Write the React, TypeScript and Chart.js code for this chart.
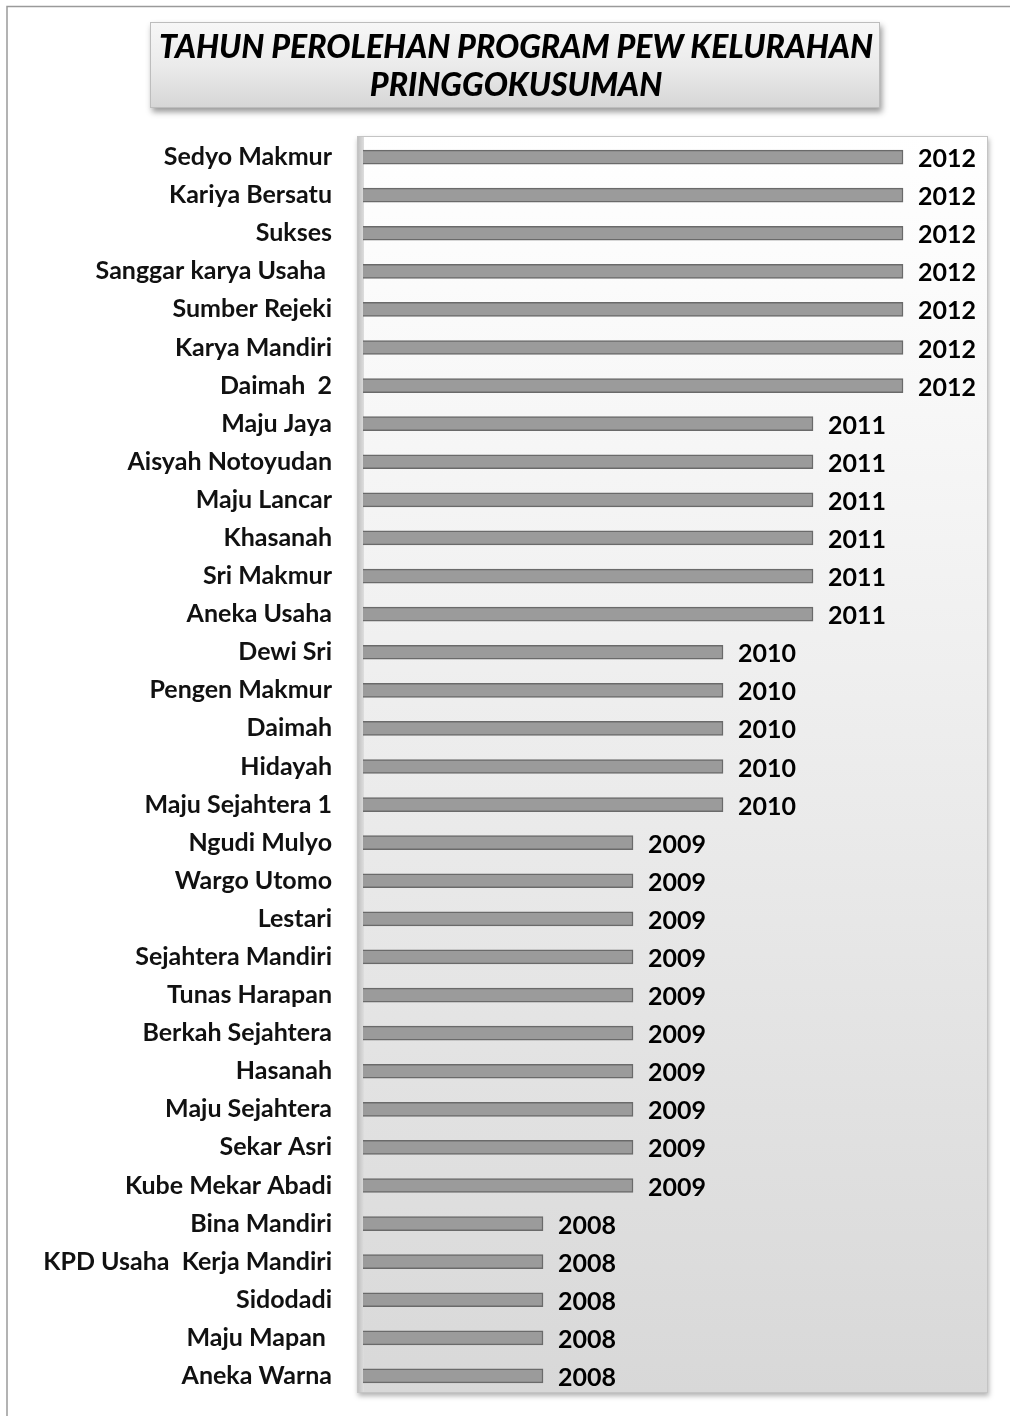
import React, { useEffect, useRef } from "react";
import { Chart, registerables } from "chart.js";

Chart.register(...registerables);

const titleLines = ["TAHUN PEROLEHAN PROGRAM PEW KELURAHAN", "PRINGGOKUSUMAN"];

const categories = [
  "Sedyo Makmur",
  "Kariya Bersatu",
  "Sukses",
  "Sanggar karya Usaha ",
  "Sumber Rejeki",
  "Karya Mandiri",
  "Daimah  2",
  "Maju Jaya",
  "Aisyah Notoyudan",
  "Maju Lancar",
  "Khasanah",
  "Sri Makmur",
  "Aneka Usaha",
  "Dewi Sri",
  "Pengen Makmur",
  "Daimah",
  "Hidayah",
  "Maju Sejahtera 1",
  "Ngudi Mulyo",
  "Wargo Utomo",
  "Lestari",
  "Sejahtera Mandiri",
  "Tunas Harapan",
  "Berkah Sejahtera",
  "Hasanah",
  "Maju Sejahtera",
  "Sekar Asri",
  "Kube Mekar Abadi",
  "Bina Mandiri",
  "KPD Usaha  Kerja Mandiri",
  "Sidodadi",
  "Maju Mapan ",
  "Aneka Warna",
];

const years = [
  2012, 2012, 2012, 2012, 2012, 2012, 2012,
  2011, 2011, 2011, 2011, 2011, 2011,
  2010, 2010, 2010, 2010, 2010,
  2009, 2009, 2009, 2009, 2009, 2009, 2009, 2009, 2009, 2009,
  2008, 2008, 2008, 2008, 2008,
];

const axisMin = 2006;
const axisMax = 2013;

const FONT = "Lato, 'Open Sans', 'DejaVu Sans', sans-serif";

const decorPlugin = {
  id: "decor",
  beforeDraw(chart: any) {
    const { ctx, chartArea } = chart;
    const W = chart.width;
    ctx.save();
    ctx.fillStyle = "#ffffff";
    ctx.fillRect(0, 0, W, chart.height);

    // outer frame
    ctx.strokeStyle = "#9a9a9a";
    ctx.lineWidth = 1.5;
    ctx.beginPath();
    ctx.moveTo(7, chart.height);
    ctx.lineTo(7, 6.5);
    ctx.lineTo(W, 6.5);
    ctx.stroke();

    // title box
    const tx = 150, ty = 22, tw = 730, th = 86;
    ctx.save();
    ctx.shadowColor = "rgba(0,0,0,0.4)";
    ctx.shadowBlur = 6;
    ctx.shadowOffsetX = 2;
    ctx.shadowOffsetY = 4;
    const tg = ctx.createLinearGradient(0, ty, 0, ty + th);
    tg.addColorStop(0, "#f7f7f7");
    tg.addColorStop(0.5, "#ebebeb");
    tg.addColorStop(1, "#d6d6d6");
    ctx.fillStyle = tg;
    ctx.fillRect(tx, ty, tw, th);
    ctx.restore();
    ctx.strokeStyle = "#bdbdbd";
    ctx.lineWidth = 1;
    ctx.strokeRect(tx + 0.5, ty + 0.5, tw - 1, th - 1);

    ctx.fillStyle = "#000000";
    ctx.font = `italic 900 32px ${FONT}`;
    ctx.textAlign = "center";
    ctx.textBaseline = "middle";
    ctx.fillText(titleLines[0], 516, 48, 720);
    ctx.fillText(titleLines[1], 516, 86, 296);

    // plot area box
    const px = chartArea.left - 6;
    const py = chartArea.top - 2;
    const pw = chartArea.right - 5 - px;
    const ph = chartArea.bottom - 2 - py;
    ctx.save();
    ctx.shadowColor = "rgba(0,0,0,0.3)";
    ctx.shadowBlur = 5;
    ctx.shadowOffsetX = 1;
    ctx.shadowOffsetY = 3;
    const pg = ctx.createLinearGradient(0, py, 0, py + ph);
    pg.addColorStop(0, "#ffffff");
    pg.addColorStop(0.12, "#fbfbfb");
    pg.addColorStop(0.6, "#e8e8e8");
    pg.addColorStop(1, "#d8d8d8");
    ctx.fillStyle = pg;
    ctx.fillRect(px, py, pw, ph);
    ctx.restore();
    ctx.strokeStyle = "#c4c4c4";
    ctx.lineWidth = 1;
    ctx.strokeRect(px + 0.5, py + 0.5, pw - 1, ph - 1);
    // left wall strip
    const sg = ctx.createLinearGradient(px, 0, px + 7, 0);
    sg.addColorStop(0, "#bcbcbc");
    sg.addColorStop(1, "#dedede");
    ctx.fillStyle = sg;
    ctx.fillRect(px + 1, py + 1, 6, ph - 2);
    ctx.restore();
  },
  afterDatasetsDraw(chart: any) {
    const { ctx } = chart;
    const meta = chart.getDatasetMeta(0);
    ctx.save();
    ctx.fillStyle = "#000000";
    ctx.font = `bold 25px ${FONT}`;
    ctx.textAlign = "left";
    ctx.textBaseline = "middle";
    meta.data.forEach((bar: any, i: number) => {
      ctx.fillText(String(years[i]), bar.x + 15, bar.y + 2);
    });
    ctx.restore();
  },
};

export default function App() {
  const canvasRef = useRef<HTMLCanvasElement | null>(null);

  useEffect(() => {
    const canvas = canvasRef.current;
    if (!canvas) return;
    const chart = new Chart(canvas, {
      type: "bar",
      data: {
        labels: categories,
        datasets: [
          {
            data: years,
            backgroundColor: "#9b9b9b",
            borderColor: "#6a6a6a",
            borderWidth: 1.5,
            barThickness: 14,
            borderSkipped: false,
          },
        ],
      },
      options: {
        indexAxis: "y",
        responsive: false,
        animation: false,
        devicePixelRatio: 1,
        layout: { padding: { top: 138, bottom: 21, right: 17, left: 0 } },
        plugins: {
          legend: { display: false },
          tooltip: { enabled: false },
          title: { display: false },
        },
        scales: {
          x: {
            display: false,
            min: axisMin,
            max: axisMax,
          },
          y: {
            position: "left",
            afterFit(scale: any) {
              scale.width = 363;
              scale.paddingTop = 0;
              scale.paddingBottom = 0;
            },
            grid: { display: false, drawTicks: false },
            border: { display: false },
            ticks: {
              padding: 31,
              color: "#111111",
              font: { family: FONT, size: 25, weight: "bold" },
              autoSkip: false,
            },
          },
        },
      },
      plugins: [decorPlugin],
    });
    return () => chart.destroy();
  }, []);

  return (
    <div style={{ position: "absolute", left: 0, top: 0, width: 1010, height: 1416 }}>
      <canvas ref={canvasRef} width={1010} height={1416} style={{ display: "block" }} />
    </div>
  );
}
